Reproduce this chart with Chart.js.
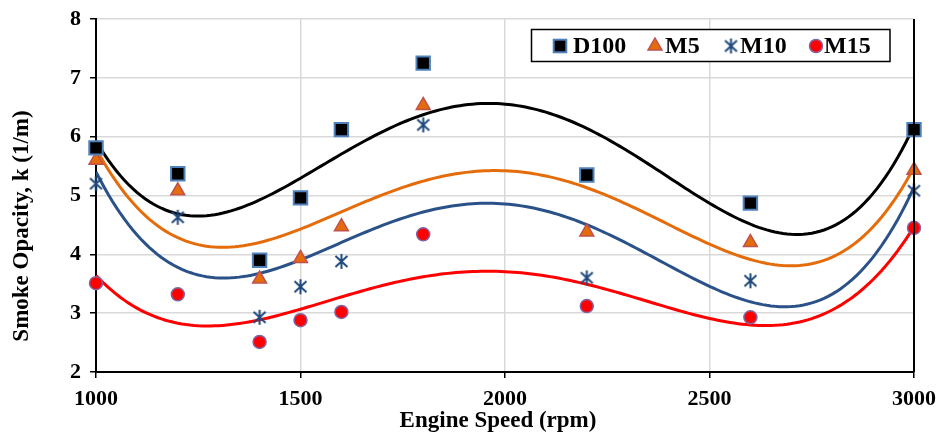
<!DOCTYPE html>
<html><head><meta charset="utf-8">
<script src="https://cdn.jsdelivr.net/npm/chart.js@4"></script>
<style>html,body{margin:0;padding:0;background:#fff}</style>
</head><body>
<canvas id="c" width="940" height="435"></canvas>
<script>
// ---- data ----
const speeds = [1000, 1200, 1400, 1500, 1600, 1800, 2200, 2600, 3000];
const d100 = [5.81, 5.37, 3.90, 4.96, 6.12, 7.25, 5.35, 4.87, 6.12];
const m5   = [5.60, 5.08, 3.58, 3.93, 4.47, 6.53, 4.38, 4.20, 5.43];
const m10  = [5.20, 4.63, 2.93, 3.45, 3.88, 6.20, 3.60, 3.55, 5.08];
const m15  = [3.51, 3.32, 2.51, 2.88, 3.02, 4.34, 3.12, 2.93, 4.45];
const seriesNames = ['D100', 'M5', 'M10', 'M15'];
const xTicks = [1000, 1500, 2000, 2500, 3000];
const yTicks = [2, 3, 4, 5, 6, 7, 8];
const xTitle = 'Engine Speed (rpm)';
const yTitle = 'Smoke Opacity, k (1/m)';
const trendOrder = 4;

const FONT = '"Liberation Serif", "Times New Roman", serif';

// polynomial least-squares trendline (like Excel's "Polynomial" trendline)
function polyfit(xs, ys, deg) {
  const t = xs.map(x => (x - 2000) / 1000);
  const n = deg + 1;
  const A = Array.from({length: n}, () => new Array(n + 1).fill(0));
  for (let k = 0; k < t.length; k++) {
    for (let i = 0; i < n; i++) {
      for (let j = 0; j < n; j++) A[i][j] += Math.pow(t[k], i + j);
      A[i][n] += ys[k] * Math.pow(t[k], i);
    }
  }
  for (let i = 0; i < n; i++) {
    let p = i;
    for (let r = i + 1; r < n; r++) if (Math.abs(A[r][i]) > Math.abs(A[p][i])) p = r;
    [A[i], A[p]] = [A[p], A[i]];
    for (let r = 0; r < n; r++) {
      if (r === i) continue;
      const f = A[r][i] / A[i][i];
      for (let c = i; c <= n; c++) A[r][c] -= f * A[i][c];
    }
  }
  const coef = A.map((row, i) => row[n] / row[i]);
  return x => { const tt = (x - 2000) / 1000; return coef.reduce((s, c, i) => s + c * Math.pow(tt, i), 0); };
}
function trend(ys) {
  const f = polyfit(speeds, ys, trendOrder);
  const pts = [];
  for (let x = speeds[0]; x <= speeds[speeds.length - 1]; x += 10) pts.push({x, y: f(x)});
  return pts;
}
const pts = ys => speeds.map((x, i) => ({x, y: ys[i]}));

// asterisk marker
function makeStar(color) {
  const c = document.createElement('canvas');
  c.width = 17; c.height = 17;
  const g = c.getContext('2d');
  g.strokeStyle = color; g.lineWidth = 2; g.lineCap = 'butt';
  g.beginPath();
  g.moveTo(8.5, 1); g.lineTo(8.5, 16);
  g.moveTo(2.5, 3); g.lineTo(14.5, 14);
  g.moveTo(2.5, 14); g.lineTo(14.5, 3);
  g.stroke();
  return c;
}
const starImg = makeStar('#1F497D');

const markerStyles = [
  {pointStyle: 'rect', pointRadius: 9.5, backgroundColor: '#000000', borderColor: '#4F81BD', pointBorderWidth: 2},
  {pointStyle: 'triangle', pointRadius: 8, backgroundColor: '#E46C0A', borderColor: '#C0504D', pointBorderWidth: 1.5},
  {pointStyle: starImg, pointRadius: 8, backgroundColor: '#1F497D', borderColor: '#1F497D', pointBorderWidth: 1},
  {pointStyle: 'circle', pointRadius: 6.5, backgroundColor: '#FF0000', borderColor: '#8064A2', pointBorderWidth: 1.5}
];
const lineColors = ['#000000', '#E46C0A', '#2A5288', '#FF0000'];
const allSeries = [d100, m5, m10, m15];

const datasets = [];
allSeries.forEach((ys, i) => {
  datasets.push(Object.assign({
    type: 'scatter', label: seriesNames[i], data: pts(ys), showLine: false,
    order: 0, clip: false
  }, markerStyles[i]));
});
allSeries.forEach((ys, i) => {
  datasets.push({
    type: 'line', label: seriesNames[i] + ' trend', data: trend(ys),
    borderColor: lineColors[i], borderWidth: 3, pointRadius: 0, tension: 0, fill: false, order: 1
  });
});

const overlay = {
  id: 'overlay',
  afterDraw(chart) {
    const ctx = chart.ctx, a = chart.chartArea;
    ctx.save();
    // right frame line
    ctx.strokeStyle = '#000'; ctx.lineWidth = 2;
    ctx.beginPath(); ctx.moveTo(a.right, a.top); ctx.lineTo(a.right, a.bottom); ctx.stroke();
    // axis titles
    ctx.fillStyle = '#000';
    ctx.font = 'bold 23px ' + FONT;
    ctx.textAlign = 'center'; ctx.textBaseline = 'middle';
    ctx.fillText(xTitle, 498, 421);
    ctx.translate(22, 226); ctx.rotate(-Math.PI / 2);
    ctx.fillText(yTitle, 0, 0);
    ctx.restore();

    // legend
    ctx.save();
    ctx.fillStyle = '#fff';
    ctx.fillRect(531, 29, 359, 33);
    ctx.strokeStyle = '#000'; ctx.lineWidth = 1.5;
    ctx.strokeRect(531.5, 29.5, 358.5, 32);
    const mx = [560, 655, 731, 816], tx = [573, 665, 740, 824], cy = 46;
    // square
    ctx.fillStyle = '#000'; ctx.strokeStyle = '#4F81BD'; ctx.lineWidth = 2;
    ctx.fillRect(mx[0] - 6.3, cy - 6.3, 12.6, 12.6); ctx.strokeRect(mx[0] - 6.3, cy - 6.3, 12.6, 12.6);
    // triangle
    ctx.fillStyle = '#E46C0A'; ctx.strokeStyle = '#C0504D'; ctx.lineWidth = 1.5;
    ctx.beginPath(); ctx.moveTo(mx[1], cy - 8); ctx.lineTo(mx[1] + 6.9, cy + 4); ctx.lineTo(mx[1] - 6.9, cy + 4); ctx.closePath();
    ctx.fill(); ctx.stroke();
    // star
    ctx.drawImage(starImg, mx[2] - 8.5, cy - 8.5);
    // circle
    ctx.fillStyle = '#FF0000'; ctx.strokeStyle = '#8064A2'; ctx.lineWidth = 1.5;
    ctx.beginPath(); ctx.arc(mx[3], cy, 6.5, 0, Math.PI * 2); ctx.fill(); ctx.stroke();
    ctx.fillStyle = '#000'; ctx.font = 'bold 24px ' + FONT;
    ctx.textAlign = 'left'; ctx.textBaseline = 'middle';
    seriesNames.forEach((n, i) => ctx.fillText(n, tx[i], cy + 1));
    ctx.restore();
  }
};

new Chart(document.getElementById('c'), {
  data: {datasets},
  options: {
    responsive: false, animation: false, devicePixelRatio: 1,
    layout: {padding: {left: 0, top: 19, right: 26, bottom: 0}},
    plugins: {legend: {display: false}, tooltip: {enabled: false}},
    scales: {
      x: {
        type: 'linear', min: 1000, max: 3000,
        afterBuildTicks: s => { s.ticks = xTicks.map(v => ({value: v})); },
        afterFit: s => { s.height = 63; s.paddingRight = 0; s.paddingLeft = 0; },
        ticks: {color: '#000', font: {family: FONT, size: 22, weight: 'bold'}, padding: 8, maxRotation: 0,
                callback: v => String(v)},
        grid: {color: '#D9D9D9', lineWidth: 1.5, tickLength: 6, tickColor: '#000', tickWidth: 1.5},
        border: {color: '#000', width: 2}
      },
      y: {
        type: 'linear', min: 2, max: 8,
        afterBuildTicks: s => { s.ticks = yTicks.map(v => ({value: v})); },
        afterFit: s => { s.width = 96; s.paddingTop = 0; s.paddingBottom = 0; },
        ticks: {color: '#000', font: {family: FONT, size: 22, weight: 'bold'}, padding: 9,
                callback: v => String(v)},
        grid: {color: '#D9D9D9', lineWidth: 1.5, tickLength: 6, tickColor: '#000', tickWidth: 1.5},
        border: {color: '#000', width: 2}
      }
    }
  },
  plugins: [overlay]
});
</script>
</body></html>
